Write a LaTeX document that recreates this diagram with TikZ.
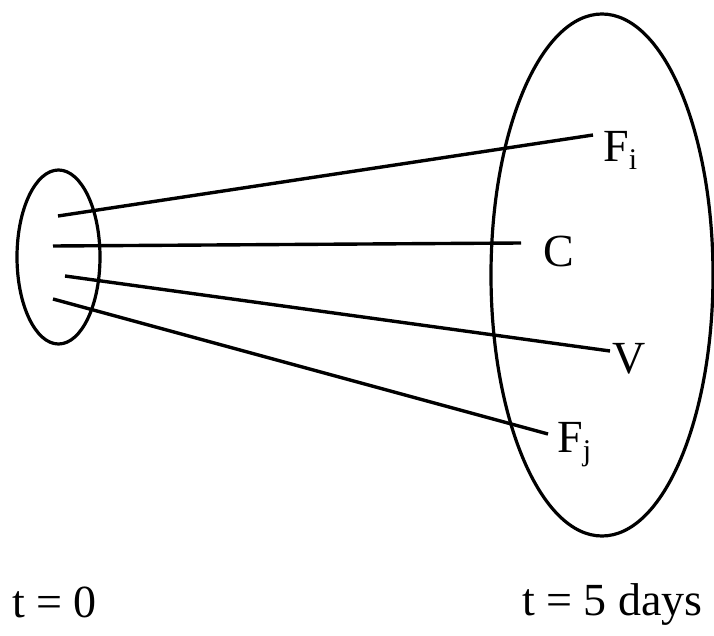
\documentclass[tikz,border=0pt]{standalone}
\usepackage{fontspec}
\setmainfont{Liberation Serif}
\newcommand{\mysub}[2]{\raisebox{#2}{\fontsize{30}{30}\selectfont #1}}
\begin{document}
\begin{tikzpicture}[x=1pt,y=-1pt,
  lbl/.style={inner sep=0pt,anchor=base west,font=\fontsize{46}{50}\selectfont},
  ray/.style={line width=3.4pt},
  ring/.style={line width=3.2pt}]
\useasboundingbox (0,0) rectangle (714,636);
% ellipses
\draw[ring] (58.5,257) ellipse [x radius=41.5, y radius=87];
\draw[ring] (602,275) ellipse [x radius=111, y radius=261];
% start points
\coordinate (s1) at (58,216);
\coordinate (s2) at (53,246);
\coordinate (s3) at (65,276);
\coordinate (s4) at (53,299);
% end points
\coordinate (e1) at (593,135);
\coordinate (e2) at (521,243);
\coordinate (e3) at (610,351);
\coordinate (e4) at (548,434);
% labels
\node[lbl] (Fi) at (603,162) {F\mysub{i}{-8pt}};
\node[lbl] (C) at (543,266) {C};
\node[lbl] (V) at (612,373) {V};
\node[lbl] (Fj) at (557,452) {F\mysub{j}{-8pt}};
\node[lbl] (t0) at (12,617) {t = 0};
\node[lbl] (t5) at (522,615) {t = 5 days};
% rays
\draw[ray] (s1) -- (e1);
\draw[ray] (s2) -- (e2);
\draw[ray] (s3) -- (e3);
\draw[ray] (s4) -- (e4);
\end{tikzpicture}
\end{document}
